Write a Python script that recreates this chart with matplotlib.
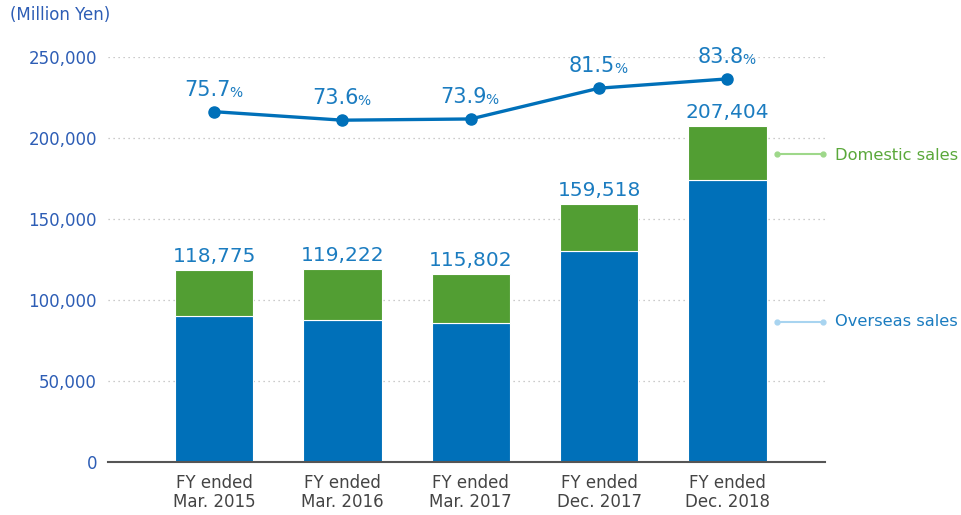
import matplotlib.pyplot as plt
from matplotlib.ticker import FuncFormatter

# data
periods = ['FY ended\nMar. 2015', 'FY ended\nMar. 2016', 'FY ended\nMar. 2017',
           'FY ended\nDec. 2017', 'FY ended\nDec. 2018']
totals = [118775, 119222, 115802, 159518, 207404]
overseas = [89900, 87700, 85600, 130000, 173800]
domestic = [28875, 31522, 30202, 29518, 33604]
overseas_ratio = [75.7, 73.6, 73.9, 81.5, 83.8]

blue = '#0070b9'
green = '#529e33'
label_blue = '#1b7cc0'
tick_blue = '#2d5db5'

plt.rcParams['font.family'] = ['DejaVu Sans']

fig = plt.figure(figsize=(9.61, 5.15), dpi=100)
ax = fig.add_axes([108 / 961, 1 - 462 / 515, (825 - 108) / 961, (462 - 57) / 515])

x = list(range(len(periods)))
ax.bar(x, overseas, width=0.61, color=blue, edgecolor='white', linewidth=0.8, zorder=3)
ax.bar(x, domestic, width=0.61, bottom=overseas, color=green, edgecolor='white',
       linewidth=0.8, zorder=3)

for xi, t in zip(x, totals):
    ax.annotate(f'{t:,}', (xi, t), xytext=(0, 4), textcoords='offset pixels',
                ha='center', va='bottom', fontsize=14.5, color=label_blue)

ax.set_xlim(-0.826, 4.76)
ax.set_ylim(0, 250000)
ax.set_yticks(range(0, 250001, 50000))
ax.yaxis.set_major_formatter(FuncFormatter(lambda v, p: f'{int(v):,}'))
ax.set_xticks(x)
ax.set_xticklabels(periods, fontsize=12, color='#444444', linespacing=1.05)
ax.tick_params(axis='y', length=0, pad=8, labelsize=12, labelcolor=tick_blue)
ax.tick_params(axis='x', length=0, pad=9)

ax.grid(axis='y', linestyle=(0, (1, 3)), color='#bbbbbb', linewidth=0.9, zorder=0)
for s in ['top', 'right', 'left']:
    ax.spines[s].set_visible(False)
ax.spines['bottom'].set_color('#555555')
ax.spines['bottom'].set_linewidth(1.5)
ax.spines['bottom'].set_zorder(4)

# ratio line on its own hidden scale
ax2 = ax.twinx()
ax2.set_ylim(-10.8, 89.2)
ax2.axis('off')
ax2.plot(x, overseas_ratio, color=blue, linewidth=2.4, marker='o', markersize=8,
         clip_on=False, zorder=5)
for xi, r in zip(x, overseas_ratio):
    ax2.annotate(f'{r}', (xi, r), xytext=(-7, 12), textcoords='offset pixels',
                 ha='center', va='bottom', fontsize=15, color=label_blue)
    ax2.annotate('%', (xi, r), xytext=(15, 12), textcoords='offset pixels',
                 ha='left', va='bottom', fontsize=10, color=label_blue)

# series labels at the right
fig.add_artist(plt.Line2D([777 / 961, 823 / 961], [1 - 154 / 515, 1 - 154 / 515],
                          color='#9ed88a', linewidth=1.5, marker='o', markersize=3.5))
fig.text(835 / 961, 1 - 155 / 515, 'Domestic sales', fontsize=11.7, color='#5aa83a',
         ha='left', va='center')
fig.add_artist(plt.Line2D([777 / 961, 823 / 961], [1 - 322 / 515, 1 - 322 / 515],
                          color='#a8d4f0', linewidth=1.5, marker='o', markersize=3.5))
fig.text(835 / 961, 1 - 322 / 515, 'Overseas sales', fontsize=11.7, color=label_blue,
         ha='left', va='center')

fig.text(10 / 961, 1 - 15 / 515, '(Million Yen)', fontsize=12, color=tick_blue,
         ha='left', va='center')

fig.savefig('out.png', dpi=100)
